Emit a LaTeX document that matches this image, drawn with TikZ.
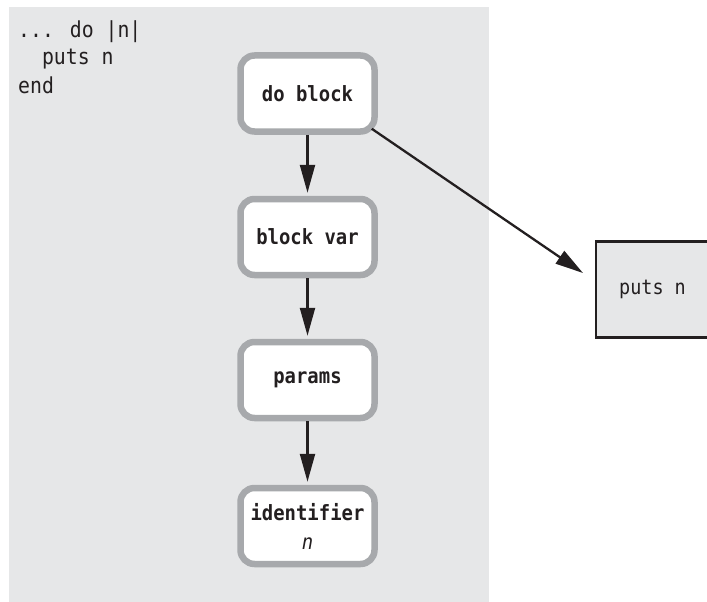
\documentclass[tikz,border=0pt]{standalone}
\usepackage{fontspec}
\setmonofont{DejaVu Sans Mono}
\newfontfamily\labfont[FakeStretch=0.9]{DejaVu Sans Mono}
\usetikzlibrary{arrows.meta}
\definecolor{panel}{RGB}{230,231,232}
\definecolor{bord}{RGB}{167,169,172}
\definecolor{ink}{RGB}{35,31,32}
\tikzset{
  blk/.style={draw=bord, line width=6.5pt, fill=white, rounded corners=14pt,
    minimum width=134pt, minimum height=76pt, inner sep=0pt, text=ink,
    font=\labfont\bfseries\fontsize{21}{29}\selectfont},
  putsbox/.style={draw=ink, line width=2.2pt, fill=panel, minimum width=113pt,
    minimum height=96pt, inner sep=0pt, text=ink,
    font=\labfont\fontsize{20.5}{24}\selectfont},
  code/.style={anchor=base west, inner sep=0pt, text=ink,
    font=\labfont\fontsize{22}{24}\selectfont},
  arr/.style={draw=ink, line width=2.3pt, -{Triangle[length=28pt,width=15pt]}}
}
\begin{document}
\begin{tikzpicture}[x=1pt,y=-1pt]
\useasboundingbox (0,0) rectangle (707,602);
\fill[panel] (9,7) rectangle (489,602);
\node[code] (c1) at (18,38) {... do |n|};
\node[code] (c2) at (18,65) {\phantom{xx}puts n};
\node[code] (c3) at (18,93) {end};
\node[blk] (do) at (307.5,93.5) {do block};
\node[blk] (bv) at (307.5,237) {block var};
\node[blk] (pa) at (307.5,380) {params};
\node[blk, align=center] (id) at (307.5,526) {identifier\\{\mdseries\itshape n}};
\node[putsbox] (pn) at (652.5,289.5) {puts n};
\coordinate (dt) at (583,273);
\draw[arr, shorten >=3pt] (do) -- (bv);
\draw[arr, shorten >=3pt] (bv) -- (pa);
\draw[arr, shorten >=3pt] (pa) -- (id);
\draw[arr] ([xshift=-6pt,yshift=6pt]do.south east) -- (dt);
\end{tikzpicture}
\end{document}
